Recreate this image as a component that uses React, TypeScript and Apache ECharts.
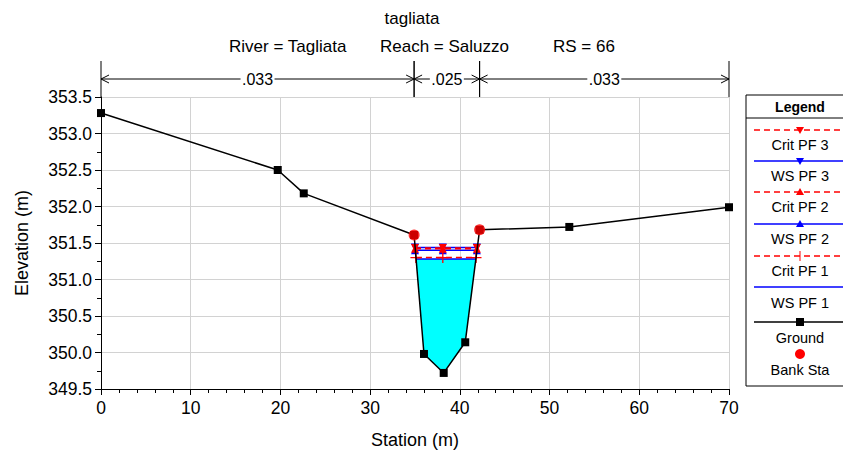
import React, { useEffect, useRef } from "react";
import * as echarts from "echarts";

// ---- data ----
const groundStation = [0, 19.7, 22.6, 34.9, 36.0, 38.2, 40.6, 42.2, 52.2, 70.0];
const groundElev = [353.28, 352.5, 352.18, 351.61, 349.98, 349.72, 350.14, 351.68, 351.72, 351.99];

const bankStation = [34.9, 42.2];
const bankElev = [351.61, 351.68];

const profileNames = ["WS PF 1", "WS PF 2", "WS PF 3", "Crit PF 1", "Crit PF 2", "Crit PF 3"];
const profileElev = [351.28, 351.40, 351.44, 351.30, 351.42, 351.43];
const upperWsStations = [35.0, 38.1, 41.9];
const lowerWsStations = [35.1, 38.1, 41.8];

const waterFillStation = [35.1, 36.0, 38.2, 40.6, 41.8];
const waterFillElev = [351.28, 349.98, 349.72, 350.14, 351.28];

const manningLabels = [".033", ".025", ".033"];
const manningBreaks = [0, 34.9, 42.2, 70];

const titleText = "tagliata";
const subtitleParts = ["River = Tagliata", "Reach = Saluzzo", "RS = 66"];

const FONT = "'Liberation Sans', Arial, sans-serif";
const BLUE = "#0000ff";
const RED = "#ff0000";

function profileSeries(idx: number) {
  const name = profileNames[idx];
  const elev = profileElev[idx];
  const isCrit = name.startsWith("Crit");
  const xs = name.endsWith("1") ? lowerWsStations : upperWsStations;
  const color = isCrit ? RED : BLUE;
  let symbol: string = "none";
  let rotate = 0;
  if (name.endsWith("3")) { symbol = "triangle"; rotate = 180; }
  if (name.endsWith("2")) { symbol = "triangle"; }
  if (name === "Crit PF 1") {
    symbol = "path://M-0.12,-1H0.12V-0.12H1V0.12H0.12V1H-0.12V0.12H-1V-0.12H-0.12Z";
  }
  return {
    type: "line",
    name,
    xAxisIndex: 0,
    yAxisIndex: 0,
    data: xs.map((s) => [s, elev]),
    symbol,
    symbolRotate: rotate,
    symbolSize: name === "Crit PF 1" ? 11 : 8,
    showSymbol: symbol !== "none",
    lineStyle: { color, width: 1.5, type: isCrit ? [6, 4] : "solid" },
    itemStyle: { color },
    z: isCrit ? 5 : 4,
    silent: true,
  };
}

export default function App() {
  const ref = useRef<HTMLDivElement>(null);

  useEffect(() => {
    if (!ref.current) return;
    const chart = echarts.init(ref.current, undefined, { renderer: "svg" });

    const legendX = 746;
    const lx0 = 754;
    const lx1 = 843;
    const mx = 800;
    const entries = [
      { label: "Crit PF 3", ly: 130, ty: 145, color: RED, dash: true, marker: "down" },
      { label: "WS PF 3", ly: 161, ty: 176, color: BLUE, dash: false, marker: "down" },
      { label: "Crit PF 2", ly: 192, ty: 207, color: RED, dash: true, marker: "up" },
      { label: "WS PF 2", ly: 224, ty: 239, color: BLUE, dash: false, marker: "up" },
      { label: "Crit PF 1", ly: 256, ty: 271, color: RED, dash: true, marker: "plus" },
      { label: "WS PF 1", ly: 287, ty: 303, color: BLUE, dash: false, marker: "none" },
      { label: "Ground", ly: 322, ty: 338, color: "#000", dash: false, marker: "square" },
    ];
    const legendChildren: any[] = [
      {
        type: "rect",
        shape: { x: legendX, y: 95, width: 110, height: 291 },
        style: { fill: "#fff", stroke: "#000", lineWidth: 1 },
      },
      {
        type: "text",
        x: mx,
        y: 107,
        style: { text: "Legend", font: `bold 14px ${FONT}`, fill: "#000", align: "center", verticalAlign: "middle" },
      },
      {
        type: "line",
        shape: { x1: legendX, y1: 118, x2: lx1, y2: 118 },
        style: { stroke: "#000", lineWidth: 1 },
      },
    ];
    entries.forEach((e) => {
      legendChildren.push({
        type: "line",
        shape: { x1: lx0, y1: e.ly, x2: lx1, y2: e.ly },
        style: { stroke: e.color, lineWidth: 1.5, lineDash: e.dash ? [6, 4] : null },
      });
      if (e.marker === "down") {
        legendChildren.push({
          type: "polygon",
          shape: { points: [[mx - 4, e.ly - 3], [mx + 4, e.ly - 3], [mx, e.ly + 4]] },
          style: { fill: e.color },
        });
      } else if (e.marker === "up") {
        legendChildren.push({
          type: "polygon",
          shape: { points: [[mx - 4, e.ly + 3], [mx + 4, e.ly + 3], [mx, e.ly - 4]] },
          style: { fill: e.color },
        });
      } else if (e.marker === "plus") {
        legendChildren.push({
          type: "line",
          shape: { x1: mx, y1: e.ly - 5, x2: mx, y2: e.ly + 5 },
          style: { stroke: e.color, lineWidth: 1 },
        });
      } else if (e.marker === "square") {
        legendChildren.push({
          type: "rect",
          shape: { x: mx - 4, y: e.ly - 4, width: 8, height: 8 },
          style: { fill: "#000" },
        });
      }
      legendChildren.push({
        type: "text",
        x: mx,
        y: e.ty,
        style: { text: e.label, font: `14.5px ${FONT}`, fill: "#000", align: "center", verticalAlign: "middle" },
      });
    });
    legendChildren.push({
      type: "circle",
      shape: { cx: mx, cy: 354, r: 5 },
      style: { fill: RED },
    });
    legendChildren.push({
      type: "text",
      x: mx,
      y: 370,
      style: { text: "Bank Sta", font: `14.5px ${FONT}`, fill: "#000", align: "center", verticalAlign: "middle" },
    });

    const subtitleX = [229, 380, 553];

    const option: any = {
      animation: false,
      backgroundColor: "#ffffff",
      textStyle: { fontFamily: FONT },
      grid: [
        { left: 101, right: 114, top: 97, bottom: 68 },
        { left: 101, right: 114, top: 61, height: 36 },
      ],
      xAxis: [
        {
          type: "value",
          gridIndex: 0,
          min: 0,
          max: 70,
          interval: 10,
          name: "Station (m)",
          nameLocation: "middle",
          nameGap: 42,
          nameTextStyle: { fontSize: 18, color: "#000", fontFamily: FONT },
          axisLine: { show: true, onZero: false, lineStyle: { color: "#000", width: 1 } },
          axisTick: { show: true, length: 6, lineStyle: { color: "#000" } },
          minorTick: { show: true, splitNumber: 5, length: 4, lineStyle: { color: "#000" } },
          axisLabel: { color: "#000", fontSize: 17.5, margin: 10, fontFamily: FONT },
          splitLine: { show: true, lineStyle: { color: "#d2d2d2", width: 1 } },
        },
        { type: "value", gridIndex: 1, min: 0, max: 70, show: false },
      ],
      yAxis: [
        {
          type: "value",
          gridIndex: 0,
          min: 349.5,
          max: 353.5,
          interval: 0.5,
          name: "Elevation (m)",
          nameLocation: "middle",
          nameGap: 70,
          nameTextStyle: { fontSize: 18, color: "#000", fontFamily: FONT },
          axisLine: { show: true, onZero: false, lineStyle: { color: "#000", width: 1 } },
          axisTick: { show: true, length: 6, lineStyle: { color: "#000" } },
          minorTick: { show: true, splitNumber: 2, length: 4, lineStyle: { color: "#000" } },
          axisLabel: {
            color: "#000",
            fontSize: 17.5,
            margin: 9,
            fontFamily: FONT,
            formatter: (v: number) => v.toFixed(1),
          },
          splitLine: { show: true, lineStyle: { color: "#d2d2d2", width: 1 } },
        },
        { type: "value", gridIndex: 1, min: 0, max: 1, show: false },
      ],
      graphic: [
        {
          type: "text",
          x: 412,
          y: 18,
          style: { text: titleText, font: `17px ${FONT}`, fill: "#000", align: "center", verticalAlign: "middle" },
        },
        ...subtitleParts.map((t, i) => ({
          type: "text",
          x: subtitleX[i],
          y: 46,
          style: { text: t, font: `17px ${FONT}`, fill: "#000", align: "left", verticalAlign: "middle" },
        })),
        { type: "group", children: legendChildren },
      ],
      series: [
        {
          type: "custom",
          name: "water",
          xAxisIndex: 0,
          yAxisIndex: 0,
          data: [[waterFillStation[0], waterFillElev[0]]],
          z: 1,
          silent: true,
          renderItem: (_p: any, api: any) => {
            const pts = waterFillStation.map((s, i) => api.coord([s, waterFillElev[i]]));
            return { type: "polygon", shape: { points: pts }, style: { fill: "#00ffff", stroke: "none" } };
          },
        },
        profileSeries(0),
        profileSeries(1),
        profileSeries(2),
        profileSeries(3),
        profileSeries(4),
        profileSeries(5),
        {
          type: "line",
          name: "Ground",
          xAxisIndex: 0,
          yAxisIndex: 0,
          data: groundStation.map((s, i) => [s, groundElev[i]]),
          symbol: "rect",
          symbolSize: 8,
          lineStyle: { color: "#000", width: 1.5 },
          itemStyle: { color: "#000" },
          z: 6,
          silent: true,
        },
        {
          type: "scatter",
          name: "Bank Sta",
          xAxisIndex: 0,
          yAxisIndex: 0,
          data: bankStation.map((s, i) => [s, bankElev[i]]),
          symbol: "circle",
          symbolSize: 11,
          itemStyle: { color: RED },
          z: 7,
          silent: true,
        },
        {
          type: "custom",
          name: "manning",
          xAxisIndex: 1,
          yAxisIndex: 1,
          data: manningLabels.map((_, i) => [manningBreaks[i], manningBreaks[i + 1], i]),
          silent: true,
          clip: false,
          renderItem: (_p: any, api: any) => {
            const x0 = api.value(0);
            const x1 = api.value(1);
            const idx = api.value(2);
            const a = api.coord([x0, 0]);
            const b = api.coord([x1, 0]);
            const top = api.coord([x0, 1])[1];
            const bot = a[1];
            const y = api.coord([x0, 0.5])[1];
            const mid = (a[0] + b[0]) / 2;
            const hw = 17;
            const st = { stroke: "#000", lineWidth: 1 };
            return {
              type: "group",
              children: [
                { type: "line", shape: { x1: a[0], y1: top, x2: a[0], y2: bot }, style: st },
                { type: "line", shape: { x1: b[0], y1: top, x2: b[0], y2: bot }, style: st },
                { type: "line", shape: { x1: a[0], y1: y, x2: mid - hw, y2: y }, style: st },
                { type: "line", shape: { x1: mid + hw, y1: y, x2: b[0], y2: y }, style: st },
                { type: "polyline", shape: { points: [[a[0] + 8, y - 4], [a[0], y], [a[0] + 8, y + 4]] }, style: { ...st, fill: "none" } },
                { type: "polyline", shape: { points: [[b[0] - 8, y - 4], [b[0], y], [b[0] - 8, y + 4]] }, style: { ...st, fill: "none" } },
                {
                  type: "text",
                  x: mid,
                  y: y,
                  style: { text: manningLabels[idx], font: `16px ${FONT}`, fill: "#000", align: "center", verticalAlign: "middle" },
                },
              ],
            };
          },
        },
      ],
    };

    chart.setOption(option);
    return () => chart.dispose();
  }, []);

  return (
    <div
      ref={ref}
      style={{ position: "fixed", left: 0, top: 0, width: 843, height: 457, background: "#fff" }}
    />
  );
}
